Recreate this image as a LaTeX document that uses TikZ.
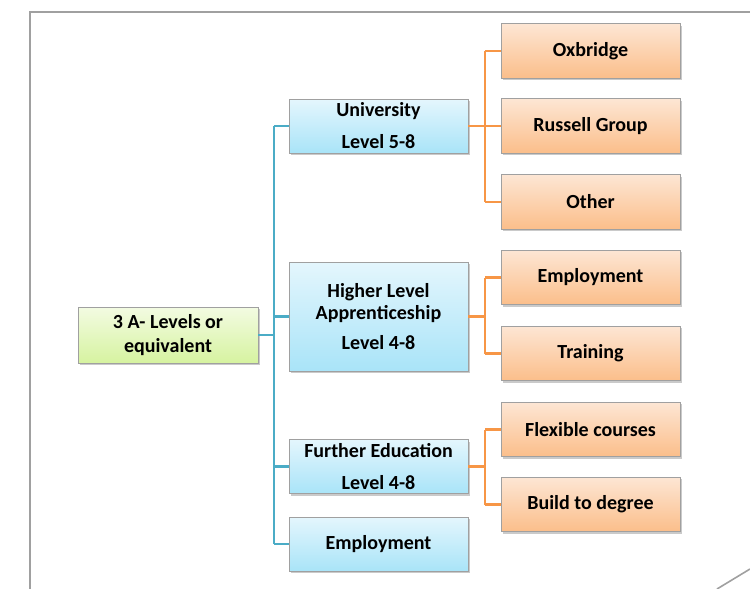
\documentclass[tikz,border=0pt]{standalone}
\usepackage{fontspec}
\setmainfont{Carlito}
\usetikzlibrary{shadows}
\definecolor{frameg}{HTML}{A0A0A0}
\definecolor{bluel}{HTML}{4BACC6}
\definecolor{orangel}{HTML}{F79646}
\definecolor{btop}{HTML}{E4F6FD}
\definecolor{bbot}{HTML}{A9E4F8}
\definecolor{otop}{HTML}{FDE6D4}
\definecolor{obot}{HTML}{FBBE8A}
\definecolor{gtop}{HTML}{F3FBE2}
\definecolor{gbot}{HTML}{D6F3A0}
\newcommand\tightspaces{\spaceskip=0.226em\relax\xspaceskip=0.226em\relax}
\tikzset{
  boxbase/.style={draw=frameg, line width=0.6pt, inner sep=0pt, align=center,
    font=\fontsize{15}{16.5}\selectfont\bfseries,
    execute at begin node=\tightspaces,
    drop shadow={shadow xshift=1.2pt, shadow yshift=-1.5pt, opacity=0.35, fill=black!60}},
  bluebox/.style={boxbase, top color=btop, bottom color=bbot, minimum width=134.25pt, minimum height=40.5pt, text width=130pt},
  orangebox/.style={boxbase, top color=otop, bottom color=obot, minimum width=134.25pt, minimum height=41pt, text width=130pt},
  greenbox/.style={boxbase, top color=gtop, bottom color=gbot, minimum width=135pt, minimum height=42pt, text width=130pt},
  bconn/.style={draw=bluel, line width=1.6pt},
  oconn/.style={draw=orangel, line width=1.6pt},
  frameline/.style={draw=frameg, line width=1.6pt}
}
\begin{document}
\begin{tikzpicture}[x=0.75pt, y=-0.75pt]
\useasboundingbox (0,0) rectangle (750,589);
% frame
\draw[frameline] (750,12) -- (30,12) -- (30,589);
\draw[draw=frameg, line width=1.2pt] (717,589) -- (750,569);

% nodes
\node[greenbox] (root) at (168,335) {3 A- Levels or\\[1.5pt]equivalent};
\node[bluebox] (uni) at (378.5,126) {University\\[7.5pt]Level 5-8};
\node[bluebox, minimum height=81.75pt] (hla) at (378.5,316.5) {Higher Level\\Apprenticeship\\[6.5pt]Level 4-8};
\node[bluebox] (fe) at (378.5,466.5) {Further Education\\[7.5pt]Level 4-8};
\node[bluebox] (emp) at (378.5,544) {Employment};

\node[orangebox] (ox) at (590.5,51) {Oxbridge};
\node[orangebox] (rg) at (590.5,126) {Russell Group};
\node[orangebox] (oth) at (590.5,202) {Other};
\node[orangebox] (emp2) at (590.5,277.5) {Employment};
\node[orangebox] (tr) at (590.5,353.5) {Training};
\node[orangebox] (flex) at (590.5,429.5) {Flexible courses};
\node[orangebox] (btd) at (590.5,504.5) {Build to degree};

% blue connectors
\coordinate (bt) at (274,126);
\coordinate (bb) at (274,544);
\draw[bconn] (bt) -- (bb);
\draw[bconn] (root.east) -- (root.east -| bt);
\draw[bconn] (uni.west -| bt) -- (uni.west);
\draw[bconn] (hla.west -| bt) -- (hla.west);
\draw[bconn] (fe.west -| bt) -- (fe.west);
\draw[bconn] (emp.west -| bt) -- (emp.west);

% orange connectors
\coordinate (ot) at (485,0);
\draw[oconn] (uni.east) -- (uni.east -| ot);
\draw[oconn] (ox.west -| ot) -- (oth.west -| ot);
\draw[oconn] (ox.west -| ot) -- (ox.west);
\draw[oconn] (rg.west -| ot) -- (rg.west);
\draw[oconn] (oth.west -| ot) -- (oth.west);

\draw[oconn] (hla.east) -- (hla.east -| ot);
\draw[oconn] (emp2.west -| ot) -- (tr.west -| ot);
\draw[oconn] (emp2.west -| ot) -- (emp2.west);
\draw[oconn] (tr.west -| ot) -- (tr.west);

\draw[oconn] (fe.east) -- (fe.east -| ot);
\draw[oconn] (flex.west -| ot) -- (btd.west -| ot);
\draw[oconn] (flex.west -| ot) -- (flex.west);
\draw[oconn] (btd.west -| ot) -- (btd.west);
\end{tikzpicture}
\end{document}
